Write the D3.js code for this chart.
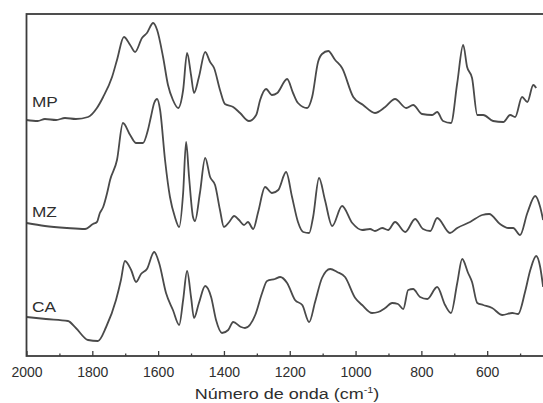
<!DOCTYPE html>
<html>
<head>
<meta charset="utf-8">
<script src="https://cdn.jsdelivr.net/npm/d3@7"></script>
<style>
body { margin: 0; background: #fff; }
svg { display: block; }
</style>
</head>
<body>
<div id="chart"></div>
<script>
// spectra (wavenumber in cm-1, signal in arbitrary units, already offset)
const seriesNames = ["MP", "MZ", "CA"];

const mpWave = [2000, 1966, 1944, 1910, 1883, 1850, 1813, 1786, 1767, 1740, 1725, 1704, 1685, 1670, 1649, 1634, 1615, 1603, 1585,
    1570, 1555, 1539, 1524, 1512, 1500, 1491, 1476, 1457, 1442, 1430, 1412, 1397, 1372, 1351, 1324, 1302, 1290,
    1272, 1254, 1238, 1208, 1190, 1175, 1147, 1132, 1114, 1102, 1083, 1062, 1041, 1007, 977, 941, 910, 880, 846,
    825, 798, 767, 752, 734, 710, 691, 673, 661, 646, 630, 612, 582, 551, 530, 515, 494, 478, 460, 451];
const mpValue = [237, 236, 238, 237, 239, 238, 240, 249, 260, 280, 297, 320, 312, 305, 319, 324, 334, 327, 300,
    272, 257, 249, 267, 304, 282, 264, 280, 305, 295, 289, 267, 253, 250, 244, 236, 242, 257,
    268, 262, 264, 278, 264, 254, 249, 260, 295, 303, 306, 297, 289, 260, 252, 244, 250, 258, 249,
    252, 243, 242, 245, 236, 234, 274, 312, 290, 279, 242, 242, 236, 235, 242, 240, 260, 255, 272, 269];

const mzWave = [2000, 1944, 1877, 1822, 1798, 1786, 1777, 1767, 1755, 1746, 1725, 1707, 1685, 1667, 1646, 1631,
    1622, 1612, 1603, 1594, 1579, 1564, 1549, 1536, 1524, 1515, 1506, 1494, 1488, 1473, 1457, 1442, 1427, 1412,
    1400, 1384, 1369, 1354, 1339, 1327, 1311, 1296, 1275, 1254, 1235, 1211, 1193, 1175, 1159, 1141, 1129, 1111,
    1093, 1071, 1041, 1010, 980, 956, 941, 919, 901, 880, 849, 819, 795, 773, 752, 713, 691, 652, 615, 594, 561,
    536, 521, 500, 478, 454, 439, 430];
const mzValue = [134, 131, 129, 128, 133, 135, 144, 150, 164, 177, 197, 234, 222, 214, 214, 227,
    240, 254, 258, 247, 197, 160, 140, 130, 164, 215, 180, 140, 136, 164, 199, 180, 172, 147,
    130, 135, 141, 137, 132, 135, 128, 145, 170, 164, 167, 185, 160, 135, 125, 124, 140, 179,
    157, 131, 151, 134, 127, 128, 126, 129, 127, 135, 125, 138, 128, 126, 139, 124, 129, 135, 142, 143, 133,
    129, 129, 122, 144, 161, 150, 137];

const caWave = [2000, 1941, 1874, 1850, 1813, 1783, 1758, 1728, 1713, 1701, 1682, 1667, 1652, 1634, 1612, 1597,
    1576, 1555, 1536, 1524, 1512, 1500, 1491, 1476, 1457, 1439, 1424, 1406, 1387, 1372, 1348, 1336, 1305, 1284,
    1269, 1245, 1229, 1208, 1184, 1162, 1141, 1123, 1102, 1077, 1056, 1032, 1001, 980, 950, 931, 910, 889, 871,
    855, 840, 825, 804, 782, 752, 728, 710, 691, 676, 658, 646, 630, 612, 585, 554, 524, 506, 485, 469, 451, 439, 430];
const caValue = [40, 38, 36, 29, 17, 16, 30, 57, 77, 96, 87, 75, 83, 88, 105, 94,
    64, 47, 32, 57, 86, 60, 39, 54, 71, 60, 37, 24, 27, 35, 30, 29, 42, 64,
    76, 78, 80, 74, 57, 52, 35, 55, 79, 88, 85, 80, 59, 52, 44, 45, 49, 54, 53,
    48, 67, 68, 60, 58, 70, 52, 44, 74, 98, 84, 75, 54, 52, 49, 42, 44, 43, 65, 87, 101, 90, 70];

const tickLabels = ["2000", "1800", "1600", "1400", "1200", "1000", "800", "600"];
const minorTicks = [1900, 1700, 1500, 1300, 1100, 900, 700, 500];

function drawSpectra() {
    const width = 543;
    const height = 403;
    const left = 26.5, top = 14, bottom = 356, right = 553;
    const font = "'Liberation Sans', Arial, sans-serif";

    const svg = d3.select("#chart")
        .append("svg")
        .attr("width", width)
        .attr("height", height);

    const x = d3.scaleLinear().domain([2000, 400]).range([left, right]);
    const y = d3.scaleLinear().domain([1, 343]).range([bottom, top]);

    const series = [
        { name: seriesNames[0], wave: mpWave, value: mpValue, labelGap: 13 },
        { name: seriesNames[1], wave: mzWave, value: mzValue, labelGap: 6.5 },
        { name: seriesNames[2], wave: caWave, value: caValue, labelGap: 5.5 }
    ];

    svg.append("clipPath")
        .attr("id", "plot-clip")
        .append("rect")
        .attr("x", left)
        .attr("y", top)
        .attr("width", right - left)
        .attr("height", bottom - top);

    const line = d3.line()
        .x(d => x(d[0]))
        .y(d => y(d[1]))
        .curve(d3.curveMonotoneX);

    svg.append("g")
        .attr("clip-path", "url(#plot-clip)")
        .selectAll("path")
        .data(series)
        .enter().append("path")
        .attr("d", s => line(s.wave.map((w, i) => [w, s.value[i]])))
        .attr("fill", "none")
        .attr("stroke", "#4a4a4a")
        .attr("stroke-width", 1.8)
        .attr("stroke-linejoin", "round");

    // series names, a bit stretched like the scanned figure
    svg.append("g")
        .selectAll("text")
        .data(series)
        .enter().append("text")
        .attr("transform", s => `translate(32,${y(s.value[0]) - s.labelGap}) scale(1.15,1)`)
        .text(s => s.name)
        .style("font-family", font)
        .style("font-size", "15px")
        .style("fill", "#2e2e2e");

    // frame
    svg.append("rect")
        .attr("x", left)
        .attr("y", top)
        .attr("width", right - left)
        .attr("height", bottom - top)
        .attr("fill", "none")
        .attr("stroke", "#3c3c3c")
        .attr("stroke-width", 1.8);

    const majorAxis = svg.append("g")
        .attr("transform", `translate(0,${bottom})`)
        .call(d3.axisBottom(x)
            .tickValues(tickLabels.map(Number))
            .tickSize(-5)
            .tickPadding(11)
            .tickFormat((d, i) => tickLabels[i]));

    const minorAxis = svg.append("g")
        .attr("transform", `translate(0,${bottom})`)
        .call(d3.axisBottom(x)
            .tickValues(minorTicks)
            .tickSize(-2.5)
            .tickFormat(""));

    [majorAxis, minorAxis].forEach(g => {
        g.select(".domain").remove();
        g.selectAll("line").attr("stroke", "#3c3c3c").attr("stroke-width", 1.3);
    });

    majorAxis.selectAll("text")
        .style("font-family", font)
        .style("font-size", "14px")
        .style("fill", "#2e2e2e");

    const title = svg.append("text")
        .attr("transform", "translate(287,399) scale(1.2,1)")
        .attr("text-anchor", "middle")
        .style("font-family", font)
        .style("font-size", "15px")
        .style("fill", "#2e2e2e");
    title.append("tspan").text("Número de onda (cm");
    title.append("tspan").attr("dy", -6).style("font-size", "9px").text("-1");
    title.append("tspan").attr("dy", 6).text(")");
}

drawSpectra();
</script>
</body>
</html>
